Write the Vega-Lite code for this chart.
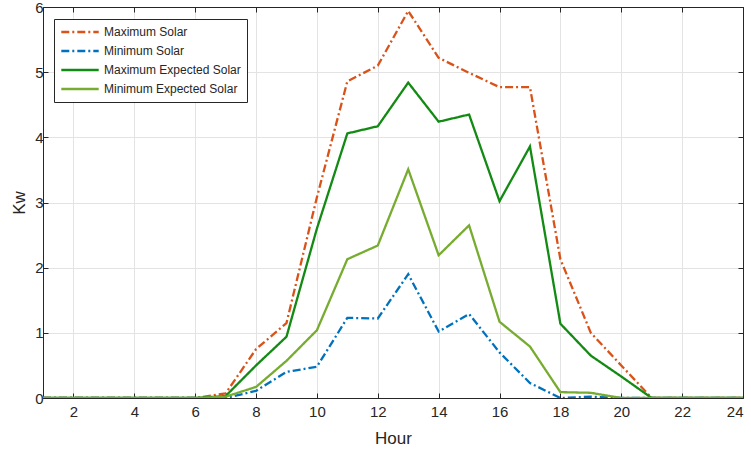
{
  "$schema": "https://vega.github.io/schema/vega-lite/v6.json",
  "width": 700,
  "height": 391,
  "autosize": {"type": "none"},
  "padding": {"left": 43, "top": 7, "right": 8, "bottom": 63},
  "background": "white",
  "config": {
    "font": "Liberation Sans",
    "view": {"stroke": "#262626", "strokeWidth": 1},
    "axis": {
      "gridColor": "#e3e3e3",
      "gridWidth": 1,
      "domainColor": "#262626",
      "tickColor": "#262626",
      "labelColor": "#262626",
      "titleColor": "#262626",
      "labelFont": "Liberation Sans",
      "titleFont": "Liberation Sans",
      "labelFontSize": 15,
      "titleFontSize": 17,
      "titleFontWeight": "normal"
    }
  },
  "data": {
    "values": [
      {"hour": 1, "series": "Maximum Solar", "kw": 0},
      {"hour": 2, "series": "Maximum Solar", "kw": 0},
      {"hour": 3, "series": "Maximum Solar", "kw": 0},
      {"hour": 4, "series": "Maximum Solar", "kw": 0},
      {"hour": 5, "series": "Maximum Solar", "kw": 0},
      {"hour": 6, "series": "Maximum Solar", "kw": 0},
      {"hour": 7, "series": "Maximum Solar", "kw": 0.07},
      {"hour": 8, "series": "Maximum Solar", "kw": 0.75},
      {"hour": 9, "series": "Maximum Solar", "kw": 1.15},
      {"hour": 10, "series": "Maximum Solar", "kw": 3.08},
      {"hour": 11, "series": "Maximum Solar", "kw": 4.86},
      {"hour": 12, "series": "Maximum Solar", "kw": 5.1},
      {"hour": 13, "series": "Maximum Solar", "kw": 5.94},
      {"hour": 14, "series": "Maximum Solar", "kw": 5.22},
      {"hour": 15, "series": "Maximum Solar", "kw": 4.99},
      {"hour": 16, "series": "Maximum Solar", "kw": 4.77},
      {"hour": 17, "series": "Maximum Solar", "kw": 4.77},
      {"hour": 18, "series": "Maximum Solar", "kw": 2.13},
      {"hour": 19, "series": "Maximum Solar", "kw": 1.0},
      {"hour": 20, "series": "Maximum Solar", "kw": 0.5},
      {"hour": 21, "series": "Maximum Solar", "kw": 0},
      {"hour": 22, "series": "Maximum Solar", "kw": 0},
      {"hour": 23, "series": "Maximum Solar", "kw": 0},
      {"hour": 24, "series": "Maximum Solar", "kw": 0},

      {"hour": 1, "series": "Minimum Solar", "kw": 0},
      {"hour": 2, "series": "Minimum Solar", "kw": 0},
      {"hour": 3, "series": "Minimum Solar", "kw": 0},
      {"hour": 4, "series": "Minimum Solar", "kw": 0},
      {"hour": 5, "series": "Minimum Solar", "kw": 0},
      {"hour": 6, "series": "Minimum Solar", "kw": 0},
      {"hour": 7, "series": "Minimum Solar", "kw": 0},
      {"hour": 8, "series": "Minimum Solar", "kw": 0.11},
      {"hour": 9, "series": "Minimum Solar", "kw": 0.4},
      {"hour": 10, "series": "Minimum Solar", "kw": 0.48},
      {"hour": 11, "series": "Minimum Solar", "kw": 1.23},
      {"hour": 12, "series": "Minimum Solar", "kw": 1.22},
      {"hour": 13, "series": "Minimum Solar", "kw": 1.9},
      {"hour": 14, "series": "Minimum Solar", "kw": 1.02},
      {"hour": 15, "series": "Minimum Solar", "kw": 1.29},
      {"hour": 16, "series": "Minimum Solar", "kw": 0.7},
      {"hour": 17, "series": "Minimum Solar", "kw": 0.23},
      {"hour": 18, "series": "Minimum Solar", "kw": 0},
      {"hour": 19, "series": "Minimum Solar", "kw": 0.02},
      {"hour": 20, "series": "Minimum Solar", "kw": 0},
      {"hour": 21, "series": "Minimum Solar", "kw": 0},
      {"hour": 22, "series": "Minimum Solar", "kw": 0},
      {"hour": 23, "series": "Minimum Solar", "kw": 0},
      {"hour": 24, "series": "Minimum Solar", "kw": 0},

      {"hour": 1, "series": "Maximum Expected Solar", "kw": 0},
      {"hour": 2, "series": "Maximum Expected Solar", "kw": 0},
      {"hour": 3, "series": "Maximum Expected Solar", "kw": 0},
      {"hour": 4, "series": "Maximum Expected Solar", "kw": 0},
      {"hour": 5, "series": "Maximum Expected Solar", "kw": 0},
      {"hour": 6, "series": "Maximum Expected Solar", "kw": 0},
      {"hour": 7, "series": "Maximum Expected Solar", "kw": 0.03},
      {"hour": 8, "series": "Maximum Expected Solar", "kw": 0.5},
      {"hour": 9, "series": "Maximum Expected Solar", "kw": 0.94},
      {"hour": 10, "series": "Maximum Expected Solar", "kw": 2.6},
      {"hour": 11, "series": "Maximum Expected Solar", "kw": 4.06},
      {"hour": 12, "series": "Maximum Expected Solar", "kw": 4.17},
      {"hour": 13, "series": "Maximum Expected Solar", "kw": 4.84},
      {"hour": 14, "series": "Maximum Expected Solar", "kw": 4.24},
      {"hour": 15, "series": "Maximum Expected Solar", "kw": 4.35},
      {"hour": 16, "series": "Maximum Expected Solar", "kw": 3.02},
      {"hour": 17, "series": "Maximum Expected Solar", "kw": 3.86},
      {"hour": 18, "series": "Maximum Expected Solar", "kw": 1.14},
      {"hour": 19, "series": "Maximum Expected Solar", "kw": 0.65},
      {"hour": 20, "series": "Maximum Expected Solar", "kw": 0.33},
      {"hour": 21, "series": "Maximum Expected Solar", "kw": 0},
      {"hour": 22, "series": "Maximum Expected Solar", "kw": 0},
      {"hour": 23, "series": "Maximum Expected Solar", "kw": 0},
      {"hour": 24, "series": "Maximum Expected Solar", "kw": 0},

      {"hour": 1, "series": "Minimum Expected Solar", "kw": 0},
      {"hour": 2, "series": "Minimum Expected Solar", "kw": 0},
      {"hour": 3, "series": "Minimum Expected Solar", "kw": 0},
      {"hour": 4, "series": "Minimum Expected Solar", "kw": 0},
      {"hour": 5, "series": "Minimum Expected Solar", "kw": 0},
      {"hour": 6, "series": "Minimum Expected Solar", "kw": 0},
      {"hour": 7, "series": "Minimum Expected Solar", "kw": 0.02},
      {"hour": 8, "series": "Minimum Expected Solar", "kw": 0.17},
      {"hour": 9, "series": "Minimum Expected Solar", "kw": 0.57},
      {"hour": 10, "series": "Minimum Expected Solar", "kw": 1.04},
      {"hour": 11, "series": "Minimum Expected Solar", "kw": 2.13},
      {"hour": 12, "series": "Minimum Expected Solar", "kw": 2.34},
      {"hour": 13, "series": "Minimum Expected Solar", "kw": 3.51},
      {"hour": 14, "series": "Minimum Expected Solar", "kw": 2.19},
      {"hour": 15, "series": "Minimum Expected Solar", "kw": 2.65},
      {"hour": 16, "series": "Minimum Expected Solar", "kw": 1.17},
      {"hour": 17, "series": "Minimum Expected Solar", "kw": 0.79},
      {"hour": 18, "series": "Minimum Expected Solar", "kw": 0.09},
      {"hour": 19, "series": "Minimum Expected Solar", "kw": 0.08},
      {"hour": 20, "series": "Minimum Expected Solar", "kw": 0},
      {"hour": 21, "series": "Minimum Expected Solar", "kw": 0},
      {"hour": 22, "series": "Minimum Expected Solar", "kw": 0},
      {"hour": 23, "series": "Minimum Expected Solar", "kw": 0},
      {"hour": 24, "series": "Minimum Expected Solar", "kw": 0}
    ]
  },
  "layer": [
    {
      "mark": {"type": "line", "strokeWidth": 2.3, "clip": true},
      "encoding": {
        "x": {
          "field": "hour", "type": "quantitative", "title": "Hour",
          "scale": {"domain": [1, 24], "nice": false, "zero": false},
          "axis": {"values": [2, 4, 6, 8, 10, 12, 14, 16, 18, 20, 22, 24], "tickSize": -5, "labelPadding": 11, "titlePadding": 11, "grid": true}
        },
        "y": {
          "field": "kw", "type": "quantitative", "title": "Kw",
          "scale": {"domain": [0, 6], "nice": false},
          "axis": {"values": [0, 1, 2, 3, 4, 5, 6], "tickSize": -5, "labelPadding": 5, "titlePadding": 6, "grid": true}
        },
        "color": {
          "field": "series", "type": "nominal", "title": null,
          "scale": {
            "domain": ["Maximum Solar", "Minimum Solar", "Maximum Expected Solar", "Minimum Expected Solar"],
            "range": ["#D95319", "#0072BD", "#138a13", "#77AC30"]
          },
          "legend": {
            "orient": "none", "legendX": 11, "legendY": 12,
            "symbolType": "stroke", "symbolSize": 1400, "symbolStrokeWidth": 2.5,
            "clipHeight": 14, "labelOffset": 4,
            "labelFontSize": 12, "labelColor": "#262626", "labelFont": "Liberation Sans",
            "rowPadding": 5, "padding": 6,
            "fillColor": "white", "strokeColor": "#262626", "labelLimit": 300
          }
        },
        "strokeDash": {
          "field": "series", "type": "nominal", "title": null,
          "scale": {
            "domain": ["Maximum Solar", "Minimum Solar", "Maximum Expected Solar", "Minimum Expected Solar"],
            "range": [[8, 3, 2, 3], [8, 3, 2, 3], [1, 0], [1, 0]]
          }
        },
        "order": {"field": "hour"}
      }
    },
    {
      "mark": {"type": "line", "strokeOpacity": 0},
      "encoding": {
        "x": {
          "field": "hour", "type": "quantitative",
          "axis": {"orient": "top", "values": [2, 4, 6, 8, 10, 12, 14, 16, 18, 20, 22, 24], "labels": false, "title": null, "tickSize": -5, "grid": false}
        },
        "y": {
          "field": "kw", "type": "quantitative",
          "axis": {"orient": "right", "values": [0, 1, 2, 3, 4, 5, 6], "labels": false, "title": null, "tickSize": -5, "grid": false}
        },
        "detail": {"field": "series"}
      }
    }
  ],
  "resolve": {"axis": {"x": "independent", "y": "independent"}}
}
